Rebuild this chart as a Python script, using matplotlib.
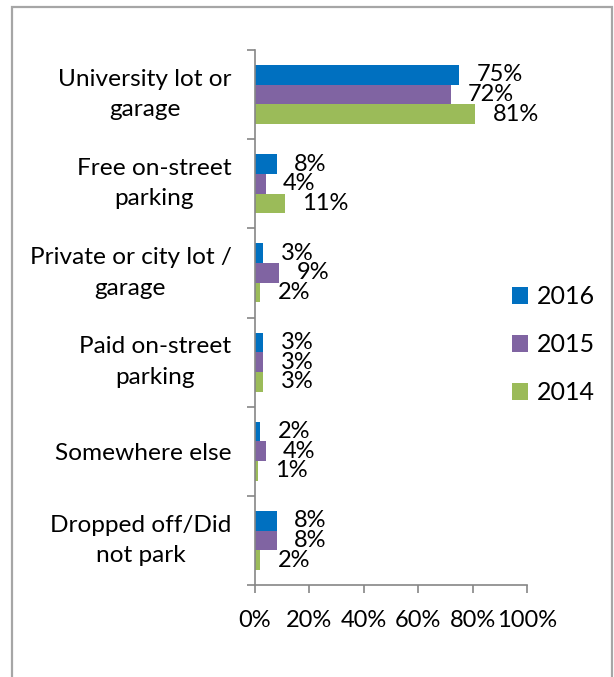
import matplotlib
matplotlib.use("Agg")
import matplotlib.pyplot as plt
from matplotlib.patches import Rectangle
import numpy as np

categories = ["University lot or\ngarage", "Free on-street\nparking",
              "Private or city lot /\ngarage", "Paid on-street\nparking",
              "Somewhere else", "Dropped off/Did\nnot park"]
series_names = ["2016", "2015", "2014"]
v2016 = [75, 8, 3, 3, 2, 8]
v2015 = [72, 4, 9, 3, 4, 8]
v2014 = [81, 11, 2, 3, 1, 2]
colors = ["#0070C0", "#8064A2", "#9BBB59"]
xticks = [0, 20, 40, 60, 80, 100]

FONT = "Lato"
FS = 17
FS_CAT = 17.6
FS_LEG = 18
W, H = 614, 677
fig = plt.figure(figsize=(W / 100, H / 100), dpi=100)
fig.patch.set_facecolor("white")

# outer border
fig.add_artist(Rectangle((12 / W, -0.05), 600 / W, 1.05 - 7 / H,
                         transform=fig.transFigure, fill=False,
                         edgecolor="#A6A6A6", linewidth=1.6))

ax = fig.add_axes([255 / W, (H - 585) / H, 272 / W, 535 / H])
n = len(categories)
y = np.arange(n)
bh = 0.22
series = [v2016, v2015, v2014]
for i, (vals, c, name) in enumerate(zip(series, colors, series_names)):
    pos = y + (i - 1) * bh
    bars = ax.barh(pos, vals, height=bh, color=c, label=name)
    for b, v in zip(bars, vals):
        ax.annotate(f"{v}%", (b.get_width(), b.get_y() + b.get_height() / 2),
                    xytext=(12.5, 0), textcoords="offset points",
                    ha="left", va="center", fontsize=FS, family=FONT)

ax.set_ylim(n - 0.5, -0.5)
ax.set_xlim(0, 100)
ax.set_xticks(xticks)
ax.set_xticklabels([f"{t}%" for t in xticks], fontsize=FS, family=FONT)
ax.set_yticks(y)
ax.set_yticklabels(categories, fontsize=FS_CAT, family=FONT, multialignment="center",
                   linespacing=1.55)
for lab in ax.get_yticklabels():
    if "\n" in lab.get_text():
        lab.set_va("center")
ax.set_yticks(np.arange(-0.5, n, 1), minor=True)
ax.tick_params(axis="y", which="major", length=0, pad=17)
ax.tick_params(axis="y", which="minor", length=6, color="#868686", width=1.2)
ax.tick_params(axis="x", length=6, color="#868686", width=1.2, pad=12)
for s in ["top", "right"]:
    ax.spines[s].set_visible(False)
for s in ["left", "bottom"]:
    ax.spines[s].set_color("#868686")
    ax.spines[s].set_linewidth(1.2)

handles, labels = ax.get_legend_handles_labels()
fig.legend(handles, labels, loc="center left",
           bbox_to_anchor=(489 / W, 1 - 345 / H), frameon=False,
           prop={"family": FONT, "size": FS_LEG}, handlelength=0.65,
           handleheight=0.65, handletextpad=0.35, labelspacing=1.0)

fig.savefig("out.png", dpi=100, facecolor="white")
